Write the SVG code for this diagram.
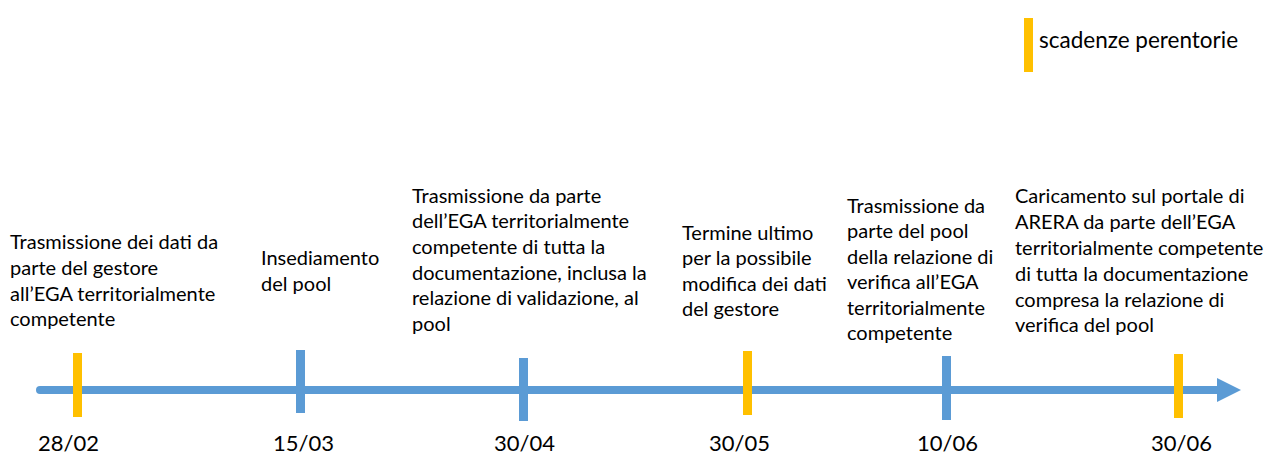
<svg xmlns="http://www.w3.org/2000/svg" width="1275" height="459" viewBox="0 0 1275 459">
<style>
text{font-family:Lato,"Open Sans","Liberation Sans",sans-serif;fill:#000}
.b{font-size:20px}
.d{font-size:22px}
.l{font-size:22.5px}
.blue{fill:#5B9BD5}
.or{fill:#FFC000}
</style>
<rect width="1275" height="459" fill="#fff"/>
<g id="connectors">
<line x1="40" y1="390" x2="1220" y2="390" stroke="#5B9BD5" stroke-width="8" stroke-linecap="round"/>
<polygon class="blue" points="1217,378 1241,390 1217,402"/>
</g>
<g id="legend">
<rect class="or" x="1024" y="18" width="9" height="54"/>
<text x="1039" y="48" class="l">scadenze perentorie</text>
</g>
<g id="n1">
<rect class="or" x="73" y="353" width="9" height="64"/>
<text class="b" x="10" y="249">Trasmissione dei dati da</text>
<text class="b" x="10" y="275">parte del gestore</text>
<text class="b" x="10" y="301">all’EGA territorialmente</text>
<text class="b" x="10" y="326">competente</text>
<text class="d" x="38" y="451">28/02</text>
</g>
<g id="n2">
<rect class="blue" x="296" y="350" width="9" height="63"/>
<text class="b" x="261" y="265">Insediamento</text>
<text class="b" x="261" y="291">del pool</text>
<text class="d" x="273" y="451">15/03</text>
</g>
<g id="n3">
<rect class="blue" x="519" y="358" width="9" height="63"/>
<text class="b" x="412" y="203">Trasmissione da parte</text>
<text class="b" x="412" y="228">dell’EGA territorialmente</text>
<text class="b" x="412" y="254">competente di tutta la</text>
<text class="b" x="412" y="280">documentazione, inclusa la</text>
<text class="b" x="412" y="305">relazione di validazione, al</text>
<text class="b" x="412" y="331">pool</text>
<text class="d" x="494" y="451">30/04</text>
</g>
<g id="n4">
<rect class="or" x="743" y="351" width="9" height="64"/>
<text class="b" x="682" y="240">Termine ultimo</text>
<text class="b" x="682" y="265">per la possibile</text>
<text class="b" x="682" y="291">modifica dei dati</text>
<text class="b" x="682" y="316">del gestore</text>
<text class="d" x="709" y="451">30/05</text>
</g>
<g id="n5">
<rect class="blue" x="942" y="356" width="9" height="64"/>
<text class="b" x="847" y="213">Trasmissione da</text>
<text class="b" x="847" y="238">parte del pool</text>
<text class="b" x="847" y="264">della relazione di</text>
<text class="b" x="847" y="289">verifica all’EGA</text>
<text class="b" x="847" y="315">territorialmente</text>
<text class="b" x="847" y="340">competente</text>
<text class="d" x="917" y="451">10/06</text>
</g>
<g id="n6">
<rect class="or" x="1174" y="354" width="9" height="64"/>
<text class="b" x="1015" y="203">Caricamento sul portale di</text>
<text class="b" x="1015" y="229">ARERA da parte dell’EGA</text>
<text class="b" x="1015" y="255">territorialmente competente</text>
<text class="b" x="1015" y="281">di tutta la documentazione</text>
<text class="b" x="1015" y="307">compresa la relazione di</text>
<text class="b" x="1015" y="332">verifica del pool</text>
<text class="d" x="1151" y="451">30/06</text>
</g>
</svg>
